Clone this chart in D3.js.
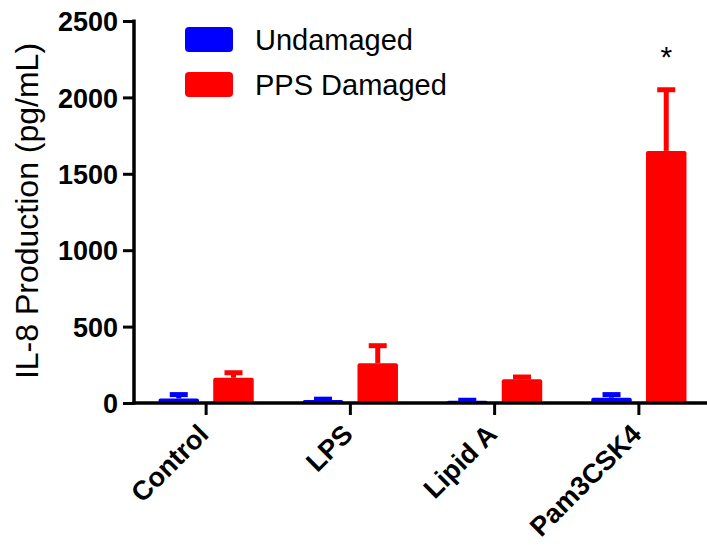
<!DOCTYPE html>
<html>
<head>
<meta charset="utf-8">
<script src="https://cdn.jsdelivr.net/npm/d3@7"></script>
<style>
  body { margin: 0; background: #fff; }
  svg { display: block; }
  text { font-family: "Liberation Sans", Arial, sans-serif; fill: #000; }
</style>
</head>
<body>
<div id="chart"></div>
<script>
// Data
const categories = ['Control', 'LPS', 'Lipid A', 'Pam3CSK4']
const seriesNames = ['Undamaged', 'PPS Damaged']
const undamaged = [30, 20, 15, 35]
const undamagedErr = [25, 5, 3, 20]
const damaged = [165, 260, 155, 1650]
const damagedErr = [33, 115, 15, 400]
const yTicks = [0, 500, 1000, 1500, 2000, 2500]
const significant = [false, false, false, true]

const colors = ['#0000ff', '#ff0000']

const width = 707
const height = 548

const svg = d3.select('#chart').append('svg')
  .attr('width', width)
  .attr('height', height)

// Scales
const y = d3.scaleLinear()
  .domain([0, 2500])
  .range([403, 21])

const x = d3.scaleBand()
  .domain(categories)
  .range([134, 711])
  .paddingInner(0.34)
  .paddingOuter(0.17)

const xInner = d3.scaleBand()
  .domain(seriesNames)
  .range([0, x.bandwidth()])
  .paddingInner(0.26)

const rows = []
categories.forEach((c, i) => {
  rows.push({ cat: c, series: seriesNames[0], value: undamaged[i], err: undamagedErr[i], color: colors[0] })
  rows.push({ cat: c, series: seriesNames[1], value: damaged[i], err: damagedErr[i], color: colors[1] })
})

// Bars
svg.append('g')
  .selectAll('rect')
  .data(rows)
  .enter()
  .append('rect')
    .attr('x', d => x(d.cat) + xInner(d.series))
    .attr('y', d => y(d.value))
    .attr('width', xInner.bandwidth())
    .attr('height', d => y(0) - y(d.value))
    .attr('rx', 2)
    .attr('fill', d => d.color)

// Error bars (upper only)
const err = svg.append('g')
  .selectAll('g')
  .data(rows)
  .enter()
  .append('g')
    .attr('stroke', d => d.color)

err.append('line')
  .attr('x1', d => x(d.cat) + xInner(d.series) + xInner.bandwidth() / 2)
  .attr('x2', d => x(d.cat) + xInner(d.series) + xInner.bandwidth() / 2)
  .attr('y1', d => y(d.value))
  .attr('y2', d => y(d.value + d.err))
  .attr('stroke-width', 5)

err.append('line')
  .attr('x1', d => x(d.cat) + xInner(d.series) + xInner.bandwidth() / 2 - 9)
  .attr('x2', d => x(d.cat) + xInner(d.series) + xInner.bandwidth() / 2 + 9)
  .attr('y1', d => y(d.value + d.err))
  .attr('y2', d => y(d.value + d.err))
  .attr('stroke-width', 5)

// Significance mark
svg.append('g')
  .selectAll('text')
  .data(categories.filter((c, i) => significant[i]))
  .enter()
  .append('text')
    .attr('x', c => x(c) + xInner(seriesNames[1]) + xInner.bandwidth() / 2)
    .attr('y', c => y(damaged[categories.indexOf(c)] + damagedErr[categories.indexOf(c)]) - 23)
    .attr('text-anchor', 'middle')
    .style('font-size', '30px')
    .text('*')

// Y axis
const yAxis = d3.axisLeft(y)
  .tickValues(yTicks)
  .tickFormat(d3.format('d'))
  .tickSize(11)
  .tickPadding(5)
  .tickSizeOuter(0)

const yG = svg.append('g')
  .attr('transform', 'translate(134,0)')
  .call(yAxis)
yG.select('.domain').attr('stroke-width', 3.5).attr('d', 'M0,' + (y(2500) - 1.5) + 'V' + (y(0) + 1.5))
yG.selectAll('.tick line').attr('stroke-width', 3)
yG.selectAll('.tick text')
  .style('font-size', '27px')
  .style('font-weight', 'bold')
  .attr('dy', '0.36em')

// X axis
const xAxis = d3.axisBottom(x)
  .tickSize(12)
  .tickSizeOuter(0)

const xG = svg.append('g')
  .attr('transform', 'translate(0,' + y(0) + ')')
  .call(xAxis)
xG.select('.domain').attr('stroke-width', 3.5).attr('d', 'M132.25,0H707')
xG.selectAll('.tick line').attr('stroke-width', 3)
xG.selectAll('.tick text')
  .style('font-size', '27px')
  .style('font-weight', 'bold')
  .attr('text-anchor', 'end')
  .attr('dy', null)
  .attr('y', null)
  .attr('transform', 'translate(4,33) rotate(-45)')

// Y axis title
svg.append('text')
  .attr('transform', 'translate(38,211) rotate(-90)')
  .attr('text-anchor', 'middle')
  .style('font-size', '32px')
  .text('IL-8 Production (pg/mL)')

// Legend
const legend = svg.append('g')
  .selectAll('g')
  .data(seriesNames)
  .enter()
  .append('g')
    .attr('transform', (d, i) => 'translate(185,' + (27 + i * 45) + ')')

legend.append('rect')
  .attr('width', 48)
  .attr('height', 25)
  .attr('rx', 4)
  .attr('fill', (d, i) => colors[i])

legend.append('text')
  .attr('x', 70)
  .attr('y', 23)
  .style('font-size', '29px')
  .text(d => d)
</script>
</body>
</html>
